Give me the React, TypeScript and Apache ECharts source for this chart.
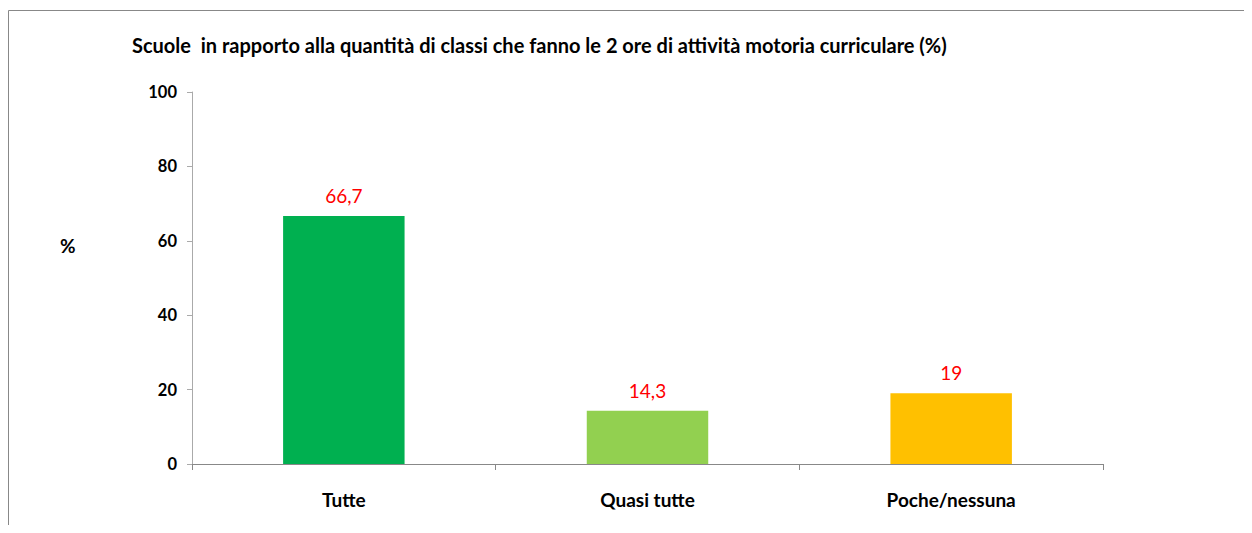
import React, { useEffect, useRef } from "react";
import * as echarts from "echarts";

const TITLE = "Scuole  in rapporto alla quantità di classi che fanno le 2 ore di attività motoria curriculare (%)";
const categories = ["Tutte", "Quasi tutte", "Poche/nessuna"];
const values = [66.7, 14.3, 19];
const barColors = ["#00B050", "#92D050", "#FFC000"];
const yTicks = { min: 0, max: 100, interval: 20 };
const FONT = "Lato, 'Open Sans', sans-serif";

export default function App() {
  const ref = useRef<HTMLDivElement>(null);
  useEffect(() => {
    if (!ref.current) return;
    const chart = echarts.init(ref.current, undefined, { renderer: "svg" });
    chart.setOption({
      animation: false,
      backgroundColor: "#ffffff",
      textStyle: { fontFamily: FONT },
      title: {
        text: TITLE,
        left: 119,
        top: 22,
        textStyle: { fontFamily: FONT, fontSize: 20, fontWeight: "bold", color: "#000" },
      },
      graphic: [
        {
          type: "rect",
          shape: { x: 0.5, y: 2.5, width: 1400, height: 700 },
          style: { fill: "none", stroke: "#888", lineWidth: 1 },
          silent: true,
        },
        {
          type: "text",
          x: 52,
          y: 237,
          style: {
            text: "%",
            fontFamily: FONT,
            fontSize: 19,
            fontWeight: "bold",
            fill: "#000",
            verticalAlign: "middle",
          },
        },
      ],
      grid: { left: 184, top: 84, right: 141, bottom: 69, containLabel: false },
      xAxis: {
        type: "category",
        data: categories,
        axisLine: { lineStyle: { color: "#888", width: 1 } },
        axisTick: { show: true, length: 6, lineStyle: { color: "#888" } },
        axisLabel: { margin: 26, fontFamily: FONT, fontSize: 19, fontWeight: "bold", color: "#000" },
      },
      yAxis: {
        type: "value",
        min: yTicks.min,
        max: yTicks.max,
        interval: yTicks.interval,
        splitLine: { show: false },
        axisLine: { show: true, lineStyle: { color: "#aaa", width: 1 } },
        axisTick: { show: true, length: 5, lineStyle: { color: "#aaa" } },
        axisLabel: { margin: 15, fontFamily: FONT, fontSize: 16.5, fontWeight: "bold", color: "#000" },
      },
      series: [
        {
          type: "bar",
          barWidth: "40%",
          data: values.map((v, i) => ({ value: v, itemStyle: { color: barColors[i] } })),
          label: {
            show: true,
            position: "top",
            distance: 11,
            fontFamily: FONT,
            fontSize: 19,
            color: "#FF0000",
            formatter: (p: any) => String(p.value).replace(".", ","),
          },
        },
      ],
    });
    return () => chart.dispose();
  }, []);
  return <div ref={ref} style={{ width: 1236, height: 525, marginBottom: -8 }} />;
}
